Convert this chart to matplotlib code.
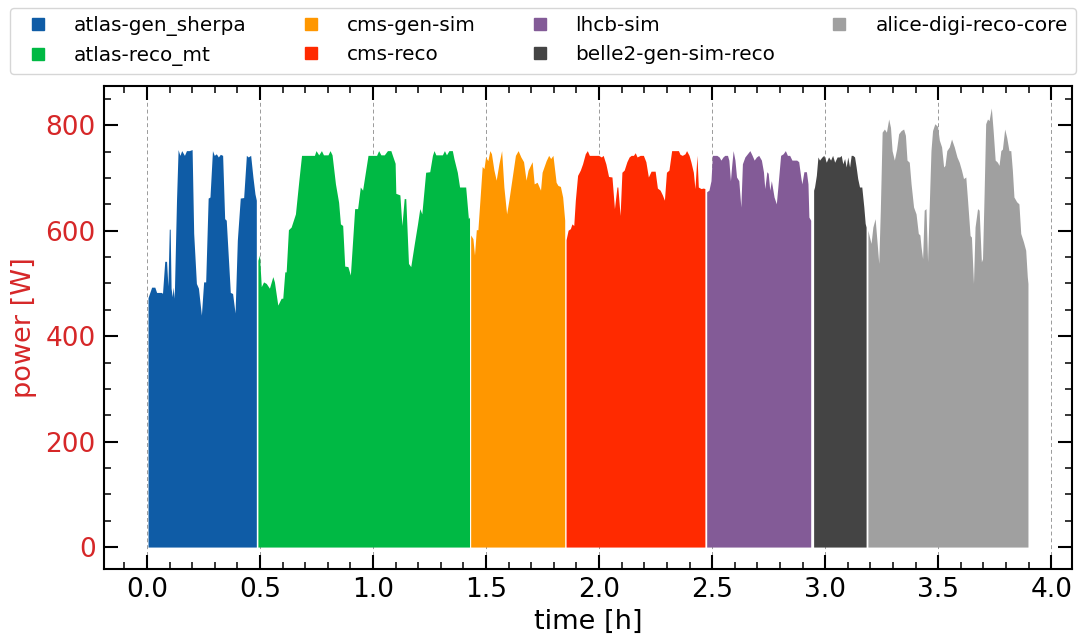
import matplotlib.pyplot as plt
from matplotlib.lines import Line2D
from matplotlib.ticker import MultipleLocator
import numpy as np

# power trace per workload, time in hours, power in W
t_atlas_gen = [0.005, 0.021, 0.035, 0.043, 0.065, 0.069, 0.079, 0.087, 0.093, 0.099,
               0.103, 0.107, 0.112, 0.116, 0.121, 0.131, 0.138, 0.146, 0.154, 0.166,
               0.175, 0.187, 0.200, 0.207, 0.219, 0.228, 0.241, 0.251, 0.260, 0.271,
               0.279, 0.290, 0.298, 0.307, 0.316, 0.325, 0.335, 0.344, 0.351, 0.369,
               0.379, 0.390, 0.400, 0.413, 0.428, 0.440, 0.448, 0.459, 0.469, 0.478, 0.484]
p_atlas_gen = [473, 493, 493, 483, 483, 481, 542, 542, 495, 603,
               603, 491, 475, 493, 472, 658, 754, 743, 752, 743,
               752, 752, 754, 595, 500, 491, 440, 503, 503, 662,
               664, 752, 743, 746, 740, 745, 743, 623, 620, 483,
               481, 444, 582, 662, 663, 743, 740, 743, 702, 670, 658]

t_atlas_reco = [0.491, 0.498, 0.506, 0.516, 0.528, 0.542, 0.557, 0.564, 0.579, 0.594,
                0.601, 0.610, 0.616, 0.626, 0.638, 0.657, 0.672, 0.684, 0.741, 0.748,
                0.760, 0.772, 0.781, 0.801, 0.810, 0.819, 0.834, 0.848, 0.856, 0.866,
                0.875, 0.889, 0.900, 0.910, 0.919, 0.932, 0.944, 0.954, 0.978, 1.016,
                1.025, 1.035, 1.050, 1.064, 1.079, 1.086, 1.098, 1.101, 1.119, 1.128,
                1.138, 1.145, 1.157, 1.167, 1.175, 1.183, 1.197, 1.207, 1.216, 1.233,
                1.251, 1.263, 1.270, 1.278, 1.307, 1.316, 1.325, 1.336, 1.351, 1.358,
                1.373, 1.383, 1.410, 1.422, 1.427]
p_atlas_reco = [544, 554, 494, 503, 500, 491, 513, 503, 459, 472,
                472, 522, 522, 602, 607, 632, 695, 743, 743, 752,
                744, 752, 744, 744, 752, 744, 689, 654, 613, 610,
                533, 532, 516, 582, 642, 642, 683, 677, 743, 743,
                752, 744, 744, 752, 752, 743, 728, 671, 668, 610,
                661, 661, 538, 532, 554, 576, 613, 642, 632, 711,
                712, 743, 752, 744, 744, 752, 744, 752, 752, 737,
                711, 683, 683, 623, 626]

t_cms_gen = [1.432, 1.442, 1.449, 1.457, 1.464, 1.473, 1.483, 1.491, 1.498, 1.508,
             1.517, 1.524, 1.535, 1.545, 1.557, 1.569, 1.579, 1.591, 1.601, 1.616,
             1.630, 1.642, 1.654, 1.666, 1.677, 1.686, 1.704, 1.713, 1.726, 1.741,
             1.748, 1.766, 1.777, 1.786, 1.796, 1.810, 1.818, 1.829, 1.839, 1.848]
p_cms_gen = [592, 585, 554, 602, 602, 658, 722, 718, 740, 733,
             752, 746, 715, 696, 727, 752, 683, 632, 658, 702,
             743, 752, 740, 731, 696, 715, 731, 689, 692, 677,
             711, 733, 743, 737, 743, 692, 686, 684, 664, 620]

t_cms_reco = [1.854, 1.863, 1.873, 1.880, 1.888, 1.895, 1.905, 1.917, 1.927, 1.939,
              1.948, 1.957, 1.998, 2.010, 2.018, 2.030, 2.042, 2.057, 2.068, 2.079,
              2.083, 2.093, 2.101, 2.111, 2.123, 2.133, 2.142, 2.152, 2.160, 2.168,
              2.182, 2.196, 2.207, 2.218, 2.230, 2.248, 2.258, 2.270, 2.280, 2.289,
              2.298, 2.309, 2.321, 2.351, 2.358, 2.368, 2.380, 2.387, 2.398, 2.406,
              2.417, 2.424, 2.433, 2.439, 2.451, 2.461, 2.468]
p_cms_reco = [583, 601, 604, 613, 610, 658, 705, 715, 727, 746,
              752, 743, 743, 740, 743, 727, 703, 702, 642, 683,
              683, 629, 711, 715, 731, 740, 743, 743, 748, 740,
              743, 743, 731, 702, 713, 713, 681, 677, 668, 658,
              711, 715, 752, 752, 745, 743, 746, 752, 743, 731,
              711, 680, 743, 683, 680, 681, 680]

t_lhcb = [2.476, 2.486, 2.495, 2.501, 2.512, 2.521, 2.531, 2.539, 2.548, 2.556,
          2.568, 2.574, 2.581, 2.586, 2.593, 2.601, 2.608, 2.618, 2.627, 2.634,
          2.645, 2.656, 2.667, 2.677, 2.686, 2.696, 2.706, 2.718, 2.727, 2.733,
          2.742, 2.748, 2.755, 2.762, 2.774, 2.784, 2.792, 2.803, 2.814, 2.824,
          2.833, 2.843, 2.853, 2.865, 2.874, 2.883, 2.892, 2.897, 2.906, 2.917,
          2.924, 2.928, 2.936]
p_lhcb = [674, 677, 695, 743, 743, 743, 740, 734, 740, 743,
          743, 734, 695, 721, 752, 734, 702, 695, 645, 727,
          740, 746, 752, 743, 734, 740, 743, 734, 712, 680,
          712, 709, 677, 695, 664, 651, 689, 743, 746, 752,
          743, 743, 734, 734, 734, 731, 702, 689, 712, 712,
          689, 626, 620]

t_belle2 = [2.949, 2.953, 2.961, 2.968, 2.975, 2.986, 2.994, 3.005, 3.015, 3.024,
            3.033, 3.042, 3.053, 3.064, 3.071, 3.078, 3.086, 3.093, 3.100, 3.108,
            3.115, 3.122, 3.130, 3.137, 3.144, 3.152, 3.162, 3.171, 3.177, 3.181]
p_belle2 = [677, 683, 705, 740, 734, 740, 743, 730, 740, 734,
            743, 730, 740, 740, 743, 727, 737, 721, 740, 721,
            743, 743, 740, 721, 699, 683, 683, 645, 614, 607]

t_alice = [3.189, 3.196, 3.203, 3.211, 3.221, 3.230, 3.237, 3.244, 3.252, 3.262,
           3.271, 3.281, 3.289, 3.296, 3.306, 3.316, 3.325, 3.336, 3.347, 3.355,
           3.362, 3.372, 3.380, 3.391, 3.402, 3.412, 3.419, 3.424, 3.431, 3.438,
           3.446, 3.453, 3.460, 3.468, 3.475, 3.485, 3.497, 3.505, 3.515, 3.524,
           3.530, 3.538, 3.549, 3.559, 3.571, 3.583, 3.593, 3.603, 3.612, 3.622,
           3.630, 3.641, 3.647, 3.656, 3.663, 3.674, 3.681, 3.691, 3.696, 3.703,
           3.710, 3.718, 3.725, 3.735, 3.743, 3.752, 3.762, 3.769, 3.777, 3.784,
           3.794, 3.803, 3.813, 3.821, 3.828, 3.835, 3.847, 3.857, 3.865, 3.877,
           3.887, 3.894, 3.897]
p_alice = [601, 588, 576, 607, 623, 576, 538, 639, 787, 793,
           787, 812, 796, 752, 734, 755, 784, 790, 793, 781,
           734, 730, 689, 645, 632, 595, 592, 570, 547, 639,
           642, 541, 642, 752, 790, 803, 798, 772, 759, 721,
           724, 752, 759, 774, 759, 740, 730, 715, 699, 702,
           657, 591, 588, 500, 607, 642, 639, 541, 547, 670,
           803, 812, 809, 833, 790, 734, 730, 724, 752, 755,
           793, 777, 752, 752, 715, 664, 655, 651, 595, 579,
           563, 513, 500]

workloads = ['atlas-gen_sherpa', 'atlas-reco_mt', 'cms-gen-sim', 'cms-reco',
             'lhcb-sim', 'belle2-gen-sim-reco', 'alice-digi-reco-core']
colors = ['#0f5ca6', '#00b944', '#ff9700', '#ff2a00', '#835b97', '#444444', '#a0a0a0']
traces = [(t_atlas_gen, p_atlas_gen), (t_atlas_reco, p_atlas_reco),
          (t_cms_gen, p_cms_gen), (t_cms_reco, p_cms_reco),
          (t_lhcb, p_lhcb), (t_belle2, p_belle2), (t_alice, p_alice)]

fig = plt.figure(figsize=(10.78, 6.34), dpi=100)
ax = fig.add_axes([0.0965, 0.1025, 0.8979, 0.7619])

handles = []
for (t, p), name, c in zip(traces, workloads, colors):
    ax.fill_between(np.array(t), 0, np.array(p), color=c, lw=0)
    handles.append(Line2D([], [], marker='s', ls='', color=c, markersize=8.5, label=name))

ax.set_axisbelow(True)
ax.grid(axis='x', which='major', ls=(0, (4, 3)), color='#9a9a9a', lw=0.7)

ax.xaxis.set_major_locator(MultipleLocator(0.5))
ax.xaxis.set_minor_locator(MultipleLocator(0.1))
ax.yaxis.set_major_locator(MultipleLocator(200))
ax.yaxis.set_minor_locator(MultipleLocator(50))
ax.tick_params(which='both', direction='in', top=True, right=True)
ax.tick_params(which='major', length=10, width=1.5, labelsize=19, pad=6)
ax.tick_params(which='minor', length=5, width=1.1)
ax.tick_params(axis='y', labelcolor='tab:red')
for s in ax.spines.values():
    s.set_linewidth(1.5)

ax.set_xlabel('time [h]', fontsize=19.5, labelpad=4)
ax.set_ylabel('power [W]', fontsize=19.5, color='tab:red', labelpad=6)

fig.legend(handles=handles, ncol=4, mode='expand', loc='lower left',
           bbox_to_anchor=(0.009, 0.883, 0.989, 0.109), fontsize=14.4,
           borderaxespad=0)

fig.savefig('out.png', dpi=100)
